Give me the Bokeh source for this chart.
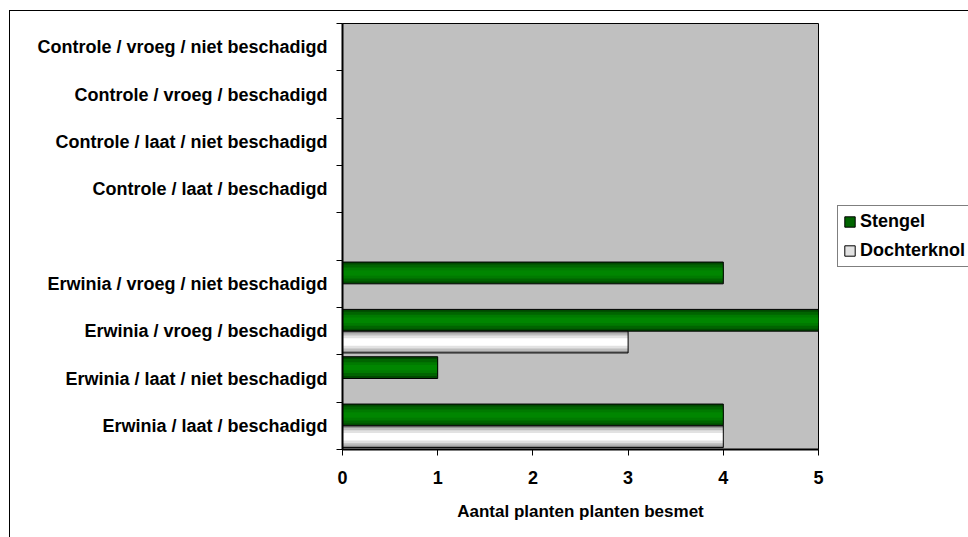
import numpy as np
from bokeh.plotting import figure
from bokeh.models import ColumnDataSource, Range1d, FixedTicker, Legend, LegendItem
from bokeh.transform import dodge
from bokeh.embed import file_html
from bokeh.resources import INLINE

# ---- data (bottom to top, as in the chart) ----
categories = [
    "Erwinia / laat /  beschadigd",
    "Erwinia / laat /  niet beschadigd",
    "Erwinia / vroeg /  beschadigd",
    "Erwinia / vroeg /  niet beschadigd",
    " ",
    "Controle / laat /  beschadigd",
    "Controle / laat /  niet beschadigd",
    "Controle / vroeg /  beschadigd",
    "Controle / vroeg /  niet beschadigd",
]
stengel = [4, 1, 5, 4, None, 0, 0, 0, 0]
dochterknol = [4, 0, 3, 0, None, 0, 0, 0, 0]
series_names = ["Stengel", "Dochterknol"]
x_ticks = [0, 1, 2, 3, 4, 5]
x_title = "Aantal planten planten besmet"

FONT = "Liberation Sans"

pos = [i + 0.5 for i in range(len(categories))]
bounds = list(range(len(categories) + 1))


def clean(vals):
    return [np.nan if v is None else v for v in vals]


src = ColumnDataSource(dict(pos=pos, stengel=clean(stengel), dochterknol=clean(dochterknol)))

p = figure(
    frame_width=476, frame_height=426,
    x_range=Range1d(x_ticks[0], x_ticks[-1]),
    y_range=Range1d(0, len(categories)),
    output_backend="svg", toolbar_location=None,
    min_border_left=332, min_border_right=150,
    min_border_top=12, min_border_bottom=88,
)
p.background_fill_color = "#c0c0c0"
p.border_fill_color = "white"
p.outline_line_color = "black"
p.outline_line_width = 1
p.xgrid.visible = False
p.ygrid.visible = False
p.styles = {"margin-left": "9px", "margin-top": "10px",
            "border-left": "1px solid black", "border-top": "1px solid black"}

BAR_H = 0.46
OFF = 0.23

green_layers = [(1.0, "#004800"), (0.78, "#006400"), (0.5, "#007a00"), (0.25, "#008600")]
white_layers = [(1.0, "#8a8a8a"), (0.82, "#bdbdbd"), (0.6, "#e2e2e2"), (0.34, "#ffffff")]

legend_r = {}
for col, off, layers in (("stengel", OFF, green_layers), ("dochterknol", -OFF, white_layers)):
    rs = []
    for frac, color in layers:
        r = p.hbar(y=dodge("pos", off), left=0, right=col, height=BAR_H * frac,
                   fill_color=color, line_color=None, source=src)
        rs.append(r)
    outline = p.hbar(y=dodge("pos", off), left=0, right=col, height=BAR_H,
                     fill_alpha=0, line_color="black", line_width=1, source=src)
    legend_r[col] = (rs, outline)

# axes
xa = p.xaxis[0]
xa.ticker = FixedTicker(ticks=x_ticks, minor_ticks=[])
xa.axis_label = x_title
ya = p.yaxis[0]
ya.ticker = FixedTicker(ticks=pos, minor_ticks=bounds)
ya.major_label_overrides = {pp: c for pp, c in zip(pos, categories)}
ya.major_tick_line_color = None
ya.minor_tick_in = 0
ya.minor_tick_out = 6
ya.minor_tick_line_color = "black"
ya.minor_tick_line_width = 1

for ax in (xa, ya):
    ax.axis_line_color = "black"
    ax.axis_line_width = 2
    ax.major_label_text_font = FONT
    ax.major_label_text_font_style = "bold"
    ax.major_label_text_font_size = "18px"
    ax.major_label_text_color = "black"
    ax.axis_label_text_font = FONT
    ax.axis_label_text_font_style = "bold"
    ax.axis_label_text_font_size = "17px"
    ax.axis_label_text_color = "black"

xa.major_tick_in = 0
xa.major_tick_out = 6
xa.major_tick_line_color = "black"
xa.major_label_standoff = 15
xa.axis_label_standoff = 15
ya.major_label_standoff = 4

legend = Legend(
    items=[
        LegendItem(label=series_names[0], renderers=[legend_r["stengel"][0][1], legend_r["stengel"][1]]),
        LegendItem(label=series_names[1], renderers=[legend_r["dochterknol"][0][2], legend_r["dochterknol"][1]]),
    ],
    location=(19, 182),
    label_text_font=FONT, label_text_font_style="bold", label_text_font_size="18px",
    label_text_color="black",
    glyph_width=13, glyph_height=13, label_standoff=4, label_height=21,
    spacing=8, padding=5, margin=0,
    border_line_color="black", border_line_width=1,
    background_fill_color="white", background_fill_alpha=1.0,
)
p.add_layout(legend, "right")

open("out.html", "w").write(file_html(p, INLINE))
